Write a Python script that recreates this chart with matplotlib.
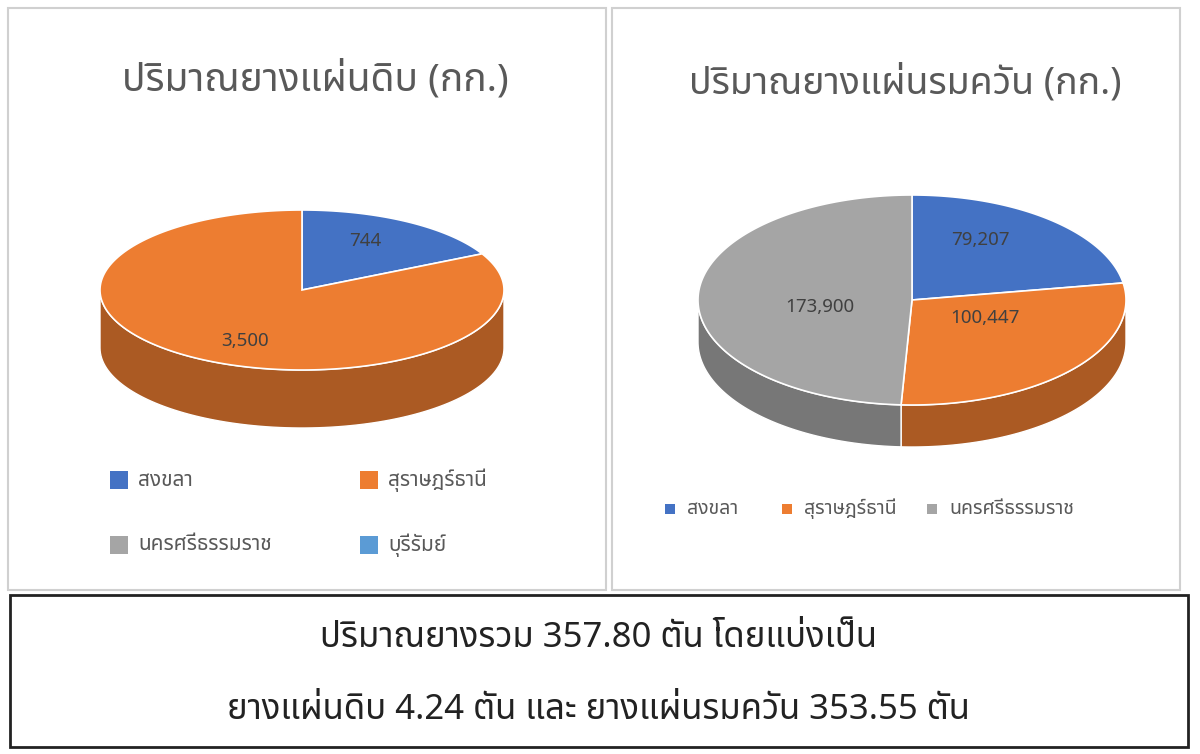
import numpy as np
import matplotlib
matplotlib.use("Agg")
import matplotlib.pyplot as plt
from matplotlib.patches import Rectangle, Polygon
import matplotlib.colors as mc

plt.rcParams['font.family'] = ['Noto Sans Thai', 'Noto Sans', 'DejaVu Sans']

title_left = "ปริมาณยางแผ่นดิบ (กก.)"
title_right = "ปริมาณยางแผ่นรมควัน (กก.)"
provinces = ["สงขลา", "สุราษฎร์ธานี", "นครศรีธรรมราช", "บุรีรัมย์"]
colors = ["#4472C4", "#ED7D31", "#A5A5A5", "#5B9BD5"]
left_values = [744, 3500]
left_labels = ["744", "3,500"]
right_values = [79207, 100447, 173900]
right_labels = ["79,207", "100,447", "173,900"]
summary1 = "ปริมาณยางรวม 357.80 ตัน โดยแบ่งเป็น"
summary2 = "ยางแผ่นดิบ 4.24 ตัน และ ยางแผ่นรมควัน 353.55 ตัน"

fig = plt.figure(figsize=(12, 7.54), dpi=100)
ax = fig.add_axes([0, 0, 1, 1])
ax.set_xlim(0, 1200); ax.set_ylim(754, 0); ax.axis('off')

ax.add_patch(Rectangle((8, 8), 598, 582, fill=False, ec='#d0d0d0', lw=1.5))
ax.add_patch(Rectangle((612, 8), 568, 582, fill=False, ec='#d0d0d0', lw=1.5))
ax.add_patch(Rectangle((10, 595), 1178, 152, fill=False, ec='#222222', lw=2))

def darker(c, f):
    r, g, b = mc.to_rgb(c)
    return (r*f, g*f, b*f)

def pie3d(cx, cy, rx, ry, depth, values, cols, labels, label_pos):
    tot = sum(values)
    starts = []
    t = -90.0
    for v in values:
        starts.append((t, t + 360 * v / tot)); t += 360 * v / tot
    for (a0, a1), c in zip(starts, cols):
        for off in (0, 360):
            lo, hi = max(a0, 0 + off), min(a1, 180 + off)
            if hi <= lo:
                continue
            tt = np.radians(np.linspace(lo, hi, 100))
            xs = cx + rx*np.cos(tt); ys = cy + ry*np.sin(tt)
            pts = np.concatenate([np.c_[xs, ys], np.c_[xs[::-1], ys[::-1] + depth]])
            ax.add_patch(Polygon(pts, closed=True, fc=darker(c, 0.72), ec='white', lw=1))
    for (a0, a1), c in zip(starts, cols):
        tt = np.radians(np.linspace(a0, a1, 200))
        pts = np.concatenate([[[cx, cy]], np.c_[cx + rx*np.cos(tt), cy + ry*np.sin(tt)]])
        ax.add_patch(Polygon(pts, closed=True, fc=c, ec='white', lw=1.2))
    for lab, (x, y) in zip(labels, label_pos):
        ax.text(x, y, lab, fontsize=13.5, color='#404040', ha='center', va='center')

pie3d(302, 290, 202, 80, 58, left_values, colors[:2], left_labels, [(365, 241), (245, 341)])
pie3d(912, 300, 214, 105, 42, right_values, colors[:3], right_labels,
      [(980, 240), (985, 318), (820, 307)])

ax.text(315, 80, title_left, fontsize=28, color='#595959', ha='center', va='center')
ax.text(905, 83, title_right, fontsize=27, color='#595959', ha='center', va='center')

for (x, y), name, c in zip([(110, 480), (360, 480), (110, 545), (360, 545)], provinces, colors):
    ax.add_patch(Rectangle((x, y - 9), 18, 18, fc=c, ec='none'))
    ax.text(x + 28, y, name, fontsize=15, color='#595959', va='center')
for x, name, c in zip([665, 782, 927], provinces[:3], colors[:3]):
    ax.add_patch(Rectangle((x, 504), 10, 10, fc=c, ec='none'))
    ax.text(x + 22, 509, name, fontsize=14, color='#595959', va='center')

ax.text(598, 638, summary1, fontsize=25, color='#222222', ha='center', va='center')
ax.text(598, 710, summary2, fontsize=25, color='#222222', ha='center', va='center')

fig.savefig("out.png", dpi=100)
